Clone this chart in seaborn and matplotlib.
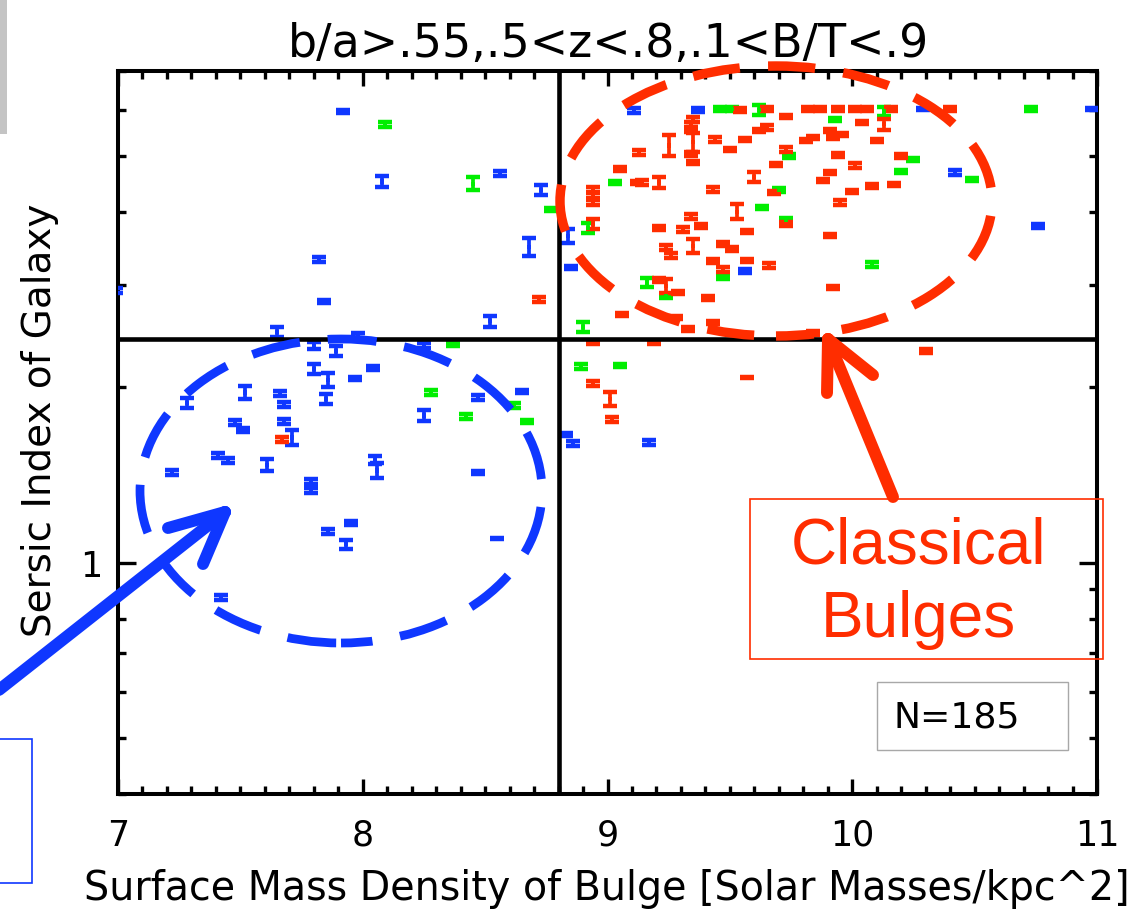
import numpy as np
import pandas as pd
import matplotlib
matplotlib.use("Agg")
import matplotlib.pyplot as plt
import seaborn as sns
from matplotlib.patches import Ellipse, Rectangle
from matplotlib.lines import Line2D
from matplotlib.ticker import FixedLocator, NullFormatter, MultipleLocator

# error half-widths are in dex (log10 units)
R = 0.0028   # compact bar
H = 0.0042   # short "H" bar

blue_x = [7.92, 7.82, 7.84, 6.99, 7.65, 7.80, 7.89, 7.98, 7.80, 7.86,
          7.85, 7.97, 7.52, 7.28, 7.66, 7.68, 7.68, 7.48, 7.51, 7.71,
          7.41, 7.45, 7.22, 7.61, 7.79, 7.79, 7.95, 7.86, 7.93, 7.42,
          8.08, 8.56, 8.73, 8.68, 8.84, 8.85, 8.52, 8.25, 8.04, 8.47,
          8.65, 8.25, 8.05, 8.06, 8.47, 8.55, 8.83, 8.86, 9.17, 9.11,
          9.37, 9.56, 10.29, 10.98, 10.42, 10.76]
blue_n = [5.96, 3.32, 2.81, 2.94, 2.49, 2.36, 2.31, 2.46, 2.15, 2.06,
          1.91, 2.07, 1.96, 1.88, 1.95, 1.87, 1.75, 1.74, 1.69, 1.64,
          1.53, 1.50, 1.43, 1.47, 1.38, 1.33, 1.17, 1.13, 1.075, 0.871,
          4.52, 4.67, 4.37, 3.49, 3.64, 3.22, 2.60, 2.36, 2.16, 1.92,
          1.97, 1.79, 1.50, 1.44, 1.43, 1.10, 1.66, 1.60, 1.61, 5.98,
          6.00, 3.17, 6.02, 6.02, 4.69, 3.79]
blue_e = [R, H, R, H, 0.0088, 0.0055, 0.0079, H, 0.0088, 0.0114,
          0.0079, R, 0.0114, 0.0079, H, H, H, H, H, 0.0131,
          H, H, H, 0.0106, H, H, R, H, 0.0073, H,
          0.0096, H, 0.0079, 0.0156, 0.0122, R, 0.0096, H, H, H,
          R, 0.0088, 0.0071, 0.0122, R, 0.0012, R, H, H, H,
          R, R, 0.0012, 0.0012, H, H]

green_x = [8.09, 8.45, 8.77, 8.90, 8.37, 8.28, 8.42, 8.62, 8.67, 8.89,
           9.05, 9.03, 8.92, 9.46, 9.51, 9.62, 9.93, 10.13, 10.73, 10.25,
           10.20, 10.49, 10.08, 9.74, 9.70, 9.63, 9.73, 9.47, 9.16, 9.24]
green_n = [5.67, 4.48, 4.04, 2.54, 2.37, 1.96, 1.78, 1.86, 1.75, 2.17,
           2.18, 4.50, 3.76, 6.02, 6.02, 6.00, 5.78, 5.96, 6.02, 4.93,
           4.70, 4.55, 3.25, 5.00, 4.37, 4.08, 3.89, 3.09, 3.03, 2.87]
green_e = [H, 0.0114, R, 0.0079, R, H, H, H, R, H,
           R, R, 0.0079, R, R, 0.0079, R, 0.0071, R, R,
           R, R, H, H, R, R, R, R, 0.0079, R]

red_x = [8.72, 8.94, 9.19, 9.06, 8.94, 9.01, 9.02, 9.57, 10.30, 7.67,
         9.13, 9.05, 9.12, 8.94, 8.94, 8.94, 8.94, 9.54, 9.65, 9.82,
         9.87, 9.94, 10.01, 10.06, 10.16, 10.40, 9.73, 10.04, 10.13, 9.91,
         9.96, 9.92, 9.84, 9.81, 10.10, 9.94, 10.20, 10.01, 9.91, 9.88,
         10.17, 10.08, 10.00, 9.95, 9.91, 9.92, 9.35, 9.34, 9.34, 9.35,
         9.34, 9.35, 9.65, 9.62, 9.56, 9.44, 9.50, 9.25, 9.73, 9.69,
         9.14, 9.21, 9.43, 9.60, 9.68, 9.53, 9.34, 9.38, 9.31, 9.21,
         9.73, 9.57, 9.35, 9.47, 9.51, 9.24, 9.26, 9.43, 9.47, 9.57,
         9.66, 9.21, 9.24, 9.29, 9.41, 9.28, 9.33, 9.43, 9.84]
red_n = [2.83, 2.39, 2.39, 2.67, 2.03, 1.91, 1.76, 2.08, 2.31, 1.63,
         5.07, 4.75, 4.50, 4.38, 4.28, 4.16, 3.82, 6.00, 6.02, 6.02,
         6.02, 6.02, 6.02, 6.02, 6.02, 6.02, 5.84, 5.71, 5.67, 5.53,
         5.44, 5.38, 5.38, 5.31, 5.32, 5.02, 5.00, 4.81, 4.69, 4.54,
         4.47, 4.44, 4.34, 4.16, 3.65, 2.97, 5.78, 5.67, 5.53, 5.28,
         5.04, 4.87, 5.60, 5.53, 5.34, 5.34, 5.13, 5.21, 5.13, 4.83,
         4.50, 4.50, 4.38, 4.60, 4.33, 4.01, 3.93, 3.79, 3.74, 3.76,
         3.82, 3.71, 3.50, 3.53, 3.46, 3.48, 3.37, 3.30, 3.19, 3.31,
         3.24, 3.06, 2.99, 2.91, 2.85, 2.64, 2.52, 2.59, 2.48]
red_e = [H, R, R, R, H, 0.0114, H, 0.0012, R, H,
         H, H, R, H, H, H, 0.0079, R, R, R,
         R, R, R, R, R, R, R, R, 0.0096, R,
         R, R, R, R, R, H, R, H, R, R,
         R, H, R, H, R, R, H, H, R, 0.0166,
         H, R, H, R, R, H, R, 0.0183, H, R,
         H, 0.0088, H, 0.0079, R, 0.0131, H, R, H, H,
         R, R, 0.0114, R, R, H, H, H, H, R,
         H, R, 0.0122, R, H, R, R, R, R]

x_major = [7, 8, 9, 10, 11]
x_labels = ["7", "8", "9", "10", "11"]
y_major = [1]
y_labels = ["1"]
y_minor = [0.4, 0.5, 0.6, 0.7, 0.8, 0.9, 2, 3, 4, 5, 6, 7]
x_split = 8.8
n_split = 2.42

title = "b/a>.55,.5<z<.8,.1<B/T<.9"
xlabel = "Surface Mass Density of Bulge [Solar Masses/kpc^2]"
ylabel = "Sersic Index of Galaxy"

W, HP = 1146, 912
BLUE, GREEN, RED = "#0F37FF", "#00EE00", "#FF2D00"
colors = {"blue": BLUE, "green": GREEN, "red": RED}

sns.set_theme(style="ticks")
plt.rcParams["font.family"] = ["DejaVu Sans"]
plt.rcParams["axes.facecolor"] = "white"

fig = plt.figure(figsize=(W / 100, HP / 100), dpi=100)
fig.patch.set_facecolor("white")
ax = fig.add_axes([118 / W, 117 / HP, 979 / W, 723 / HP])

df = pd.concat([
    pd.DataFrame({"x": blue_x, "n": blue_n, "e": blue_e, "group": "blue"}),
    pd.DataFrame({"x": green_x, "n": green_n, "e": green_e, "group": "green"}),
    pd.DataFrame({"x": red_x, "n": red_n, "e": red_e, "group": "red"}),
], ignore_index=True)

for name, g in df.groupby("group", sort=False):
    lo = g["n"] - g["n"] * 10 ** (-g["e"])
    hi = g["n"] * 10 ** (g["e"]) - g["n"]
    ax.errorbar(g["x"], g["n"], yerr=[lo, hi], fmt="none", ecolor=colors[name],
                elinewidth=2.7, capsize=4.9, capthick=3.2, zorder=3, clip_on=True)
sns.scatterplot(data=df, x="x", y="n", hue="group", palette=colors, marker="|",
                s=10, linewidth=2.7, legend=False, ax=ax, zorder=4)

ax.set_yscale("log")
ax.set_xlim(7, 11)
ax.set_ylim(0.4, 7)
ax.axvline(x_split, color="black", lw=3.3, zorder=5)
ax.axhline(n_split, color="black", lw=3.3, zorder=5)

ax.xaxis.set_major_locator(FixedLocator(x_major))
ax.set_xticklabels(x_labels)
ax.xaxis.set_minor_locator(MultipleLocator(0.1))
ax.yaxis.set_major_locator(FixedLocator(y_major))
ax.set_yticklabels(y_labels)
ax.yaxis.set_minor_locator(FixedLocator(y_minor))
ax.yaxis.set_minor_formatter(NullFormatter())
ax.tick_params(which="both", direction="in", top=True, right=True, width=2.4,
               color="black", labelcolor="black")
ax.tick_params(axis="x", which="major", length=10.5, labelsize=25, pad=17)
ax.tick_params(axis="x", which="minor", length=5.8)
ax.tick_params(axis="y", which="major", length=13, labelsize=25, pad=11)
ax.tick_params(axis="y", which="minor", length=5.8)
for s in ax.spines.values():
    s.set_linewidth(2.9)
    s.set_color("black")
ax.set_xlabel("")
ax.set_ylabel("")
ax.grid(False)


def fp(px, py):
    return (px / W, 1 - py / HP)


fig.text(*fp(608, 57), title, ha="center", va="baseline", fontsize=33, color="black")
fig.text(*fp(607, 900), xlabel, ha="center", va="baseline", fontsize=28.5, color="black")
fig.text(*fp(40, 420), ylabel, ha="center", va="center", rotation=90, fontsize=28, color="black")

# annotations (slide overlays)
fig.add_artist(Ellipse(fp(341, 492), 402 / W, 304 / HP, transform=fig.transFigure,
                       fill=False, edgecolor=BLUE, lw=6.3, linestyle=(2, (5.6, 3.2)), zorder=10))
fig.add_artist(Ellipse(fp(776, 202), 432 / W, 270 / HP, transform=fig.transFigure,
                       fill=False, edgecolor=RED, lw=6.8, linestyle=(1, (5.0, 3.0)), zorder=10))


def seg(p0, p1, color):
    a, b = fp(*p0), fp(*p1)
    fig.add_artist(Line2D([a[0], b[0]], [a[1], b[1]], transform=fig.transFigure,
                          color=color, lw=8.6, solid_capstyle="round", zorder=11))


seg((-10, 698), (225, 513), BLUE)
seg((225, 513), (168, 529), BLUE)
seg((225, 513), (203, 565), BLUE)
seg((893, 498), (828, 340), RED)
seg((828, 340), (827, 394), RED)
seg((828, 340), (873, 376), RED)

fig.add_artist(Rectangle(fp(750, 660), 353 / W, 160 / HP, transform=fig.transFigure,
                         fill=False, edgecolor=RED, lw=1.2, zorder=12))
fig.text(*fp(918, 563), "Classical", ha="center", va="baseline", fontsize=46,
         family="Liberation Sans", color=RED, zorder=12)
fig.text(*fp(918, 637), "Bulges", ha="center", va="baseline", fontsize=46,
         family="Liberation Sans", color=RED, zorder=12)

fig.add_artist(Rectangle(fp(877, 751), 191 / W, 68 / HP, transform=fig.transFigure,
                         facecolor="white", edgecolor="#a8a8a8", lw=1.0, zorder=12))
fig.text(*fp(957, 728), "N=185", ha="center", va="baseline", fontsize=26, color="black", zorder=13)

fig.add_artist(Rectangle(fp(-5, 884), 37 / W, 144 / HP, transform=fig.transFigure,
                         fill=False, edgecolor=BLUE, lw=1.2, zorder=12))
fig.add_artist(Rectangle(fp(-5, 135), 12 / W, 135 / HP, transform=fig.transFigure,
                         facecolor="#c4c4c4", edgecolor="none", zorder=12))

fig.savefig("out.png", dpi=100, facecolor="white")
